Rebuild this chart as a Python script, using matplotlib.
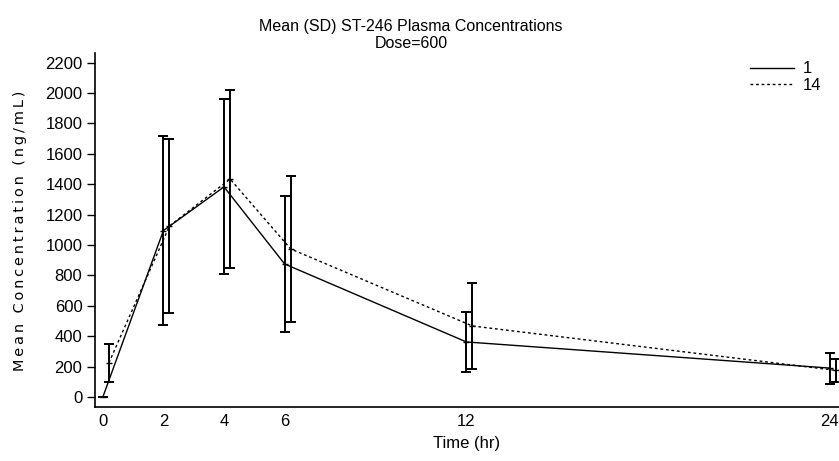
import numpy as np
import matplotlib.pyplot as plt
from matplotlib.lines import Line2D

# nominal sampling times (hr)
times = [0, 2, 4, 6, 12, 24]

# day 1
day1_mean = [0, 1095, 1382, 875, 362, 190]
day1_sd = [0, 620, 575, 450, 200, 102]

# day 14
day14_mean = [225, 1125, 1434, 974, 467, 175]
day14_sd = [125, 571, 585, 480, 280, 75]

series_labels = ['1', '14']
x_ticks = [0, 2, 4, 6, 12, 24]
y_ticks = list(range(0, 2201, 200))

FONT = ['Liberation Sans', 'DejaVu Sans']
DOTTED = (0, (2, 2))


def main():
    fig = plt.figure(figsize=(8.39, 4.61), dpi=100)
    ax = fig.add_axes([0.1132, 0.1171, 0.8868, 0.768])

    t = np.array(times, dtype=float)
    # day 14 is drawn with a small offset so the bars do not overlap
    ax.errorbar(t, day1_mean, yerr=day1_sd, color='black', lw=1,
                ls='-', marker='_', ms=5, capsize=3.5, elinewidth=1.4,
                capthick=1.4)
    ax.errorbar(t + 0.2, day14_mean, yerr=day14_sd, color='black', lw=1,
                ls=DOTTED, marker='_', ms=5, capsize=3.5,
                elinewidth=1.4, capthick=1.4)

    ax.set_xlim(-0.26, 24.3)
    ax.set_ylim(-66, 2263)
    ax.set_xticks(x_ticks)
    ax.set_yticks(y_ticks)
    ax.tick_params(axis='x', length=0, pad=5)
    ax.tick_params(axis='y', length=6, width=1, pad=3)
    for lab in ax.get_xticklabels() + ax.get_yticklabels():
        lab.set_family(FONT)
        lab.set_fontsize(12)

    for side in ['top', 'right']:
        ax.spines[side].set_visible(False)
    for side in ['left', 'bottom']:
        ax.spines[side].set_linewidth(1.2)

    ax.set_xlabel('Time (hr)', family=FONT, fontsize=12, labelpad=5)

    # letter-spaced y label, scaled to the reference height
    ylab = '\u2009'.join('Mean Concentration (ng/mL)')
    yt = fig.text(0.024, 0.5, ylab, rotation=90, ha='center', va='center',
                  fontsize=12)
    fig.canvas.draw()
    h = yt.get_window_extent().height
    yt.set_fontsize(12 * 280 / h)

    fig.text(0.49, 0.924, 'Mean (SD) ST-246 Plasma Concentrations\nDose=600',
             ha='center', va='center', family=FONT, fontsize=11.5,
             linespacing=1.1)

    handles = [Line2D([], [], color='black', lw=1, ls='-'),
               Line2D([], [], color='black', lw=1, ls=DOTTED)]
    ax.legend(handles, series_labels, loc='upper left', frameon=False,
              bbox_to_anchor=(0.872, 0.995), handlelength=2.6,
              labelspacing=0.1, handletextpad=0.55, borderaxespad=0,
              prop={'family': FONT, 'size': 12})

    fig.savefig('out.png', dpi=100)


if __name__ == '__main__':
    main()
